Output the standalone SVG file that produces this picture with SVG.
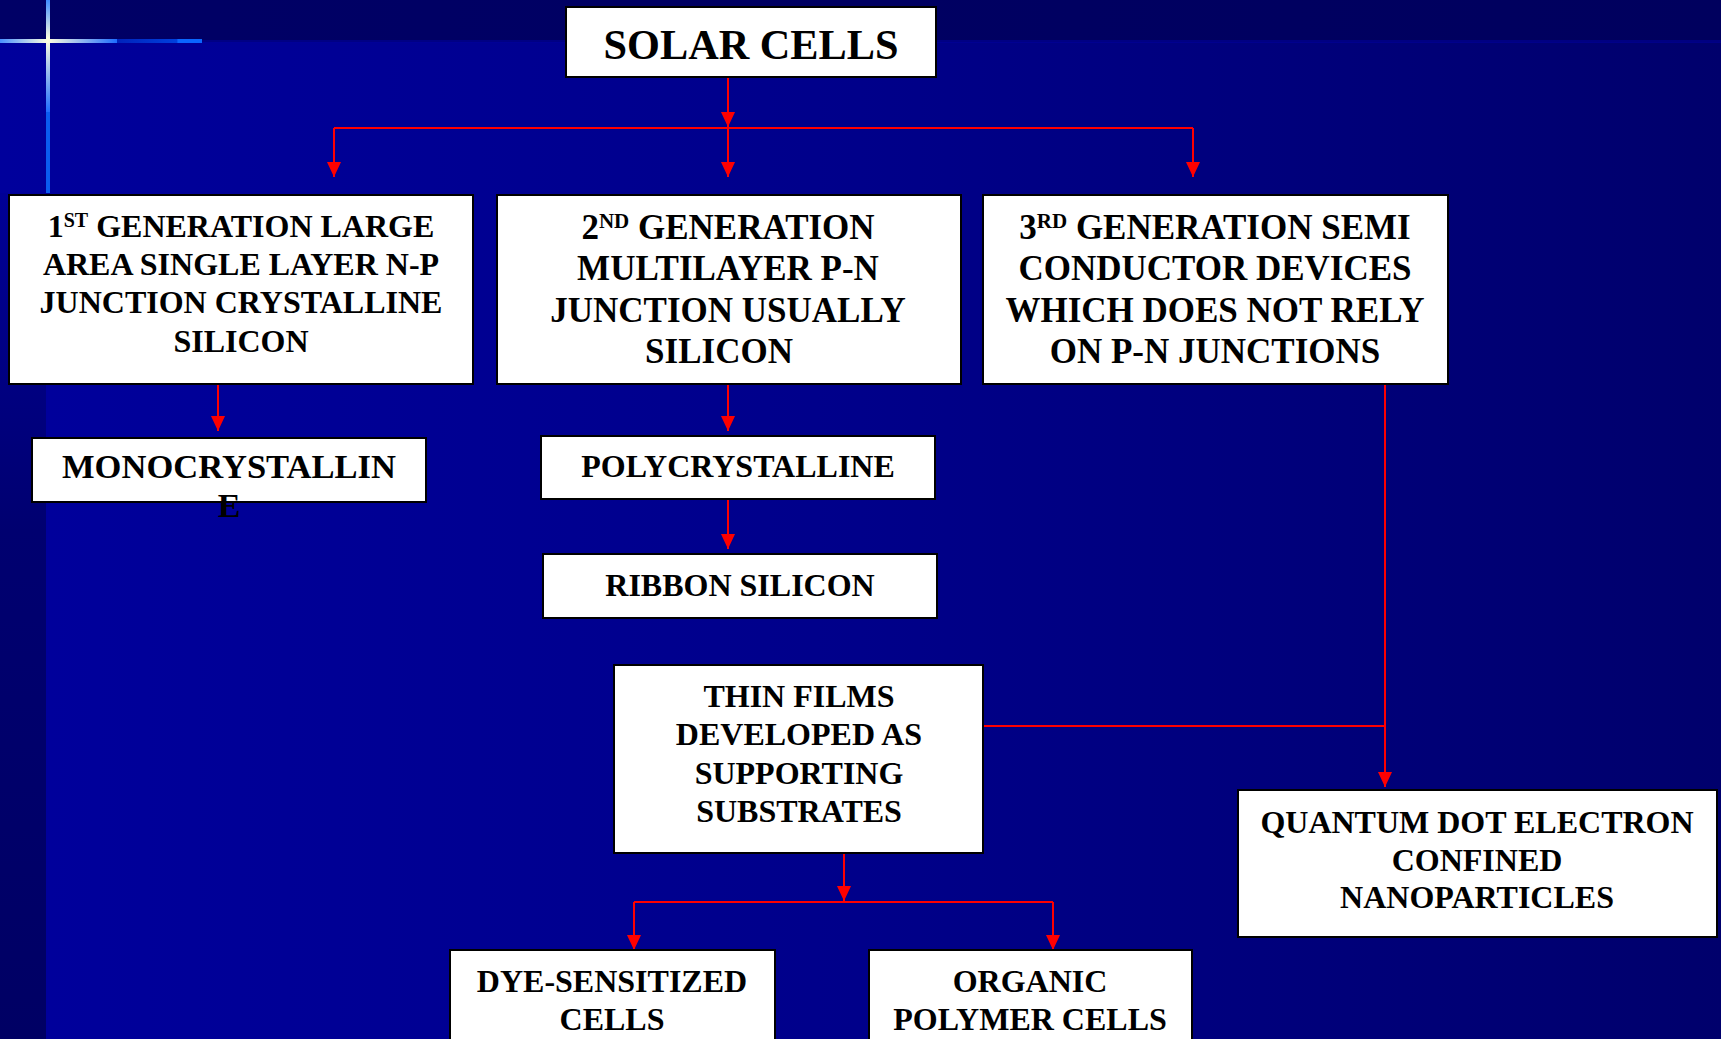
<svg xmlns="http://www.w3.org/2000/svg" width="1721" height="1039" viewBox="0 0 1721 1039">
  <defs>
    <linearGradient id="bgMain" x1="0" y1="0" x2="1" y2="0">
      <stop offset="0" stop-color="#00009c"/>
      <stop offset="0.5" stop-color="#00008a"/>
      <stop offset="1" stop-color="#00006c"/>
    </linearGradient>
    <linearGradient id="bgTop" x1="0" y1="0" x2="1" y2="0">
      <stop offset="0" stop-color="#000066"/>
      <stop offset="1" stop-color="#00005e"/>
    </linearGradient>
    <linearGradient id="strip" x1="0" y1="0" x2="0" y2="1">
      <stop offset="0" stop-color="#000096"/>
      <stop offset="0.4" stop-color="#000070"/>
      <stop offset="1" stop-color="#000064"/>
    </linearGradient>
    <linearGradient id="crossV" x1="0" y1="0" x2="0" y2="1">
      <stop offset="0" stop-color="#3f8cff"/>
      <stop offset="0.35" stop-color="#ffffe0"/>
      <stop offset="1" stop-color="#1e6cff"/>
    </linearGradient>
    <linearGradient id="crossH" x1="0" y1="0" x2="1" y2="0">
      <stop offset="0" stop-color="#4a90ff"/>
      <stop offset="0.41" stop-color="#ffffe0"/>
      <stop offset="1" stop-color="#1e6cff"/>
    </linearGradient>
    <linearGradient id="crossH2" x1="0" y1="0" x2="1" y2="0">
      <stop offset="0" stop-color="#0022bb"/>
      <stop offset="0.7" stop-color="#0040dd"/>
      <stop offset="0.72" stop-color="#0a66ff"/>
      <stop offset="1" stop-color="#0a66ff"/>
    </linearGradient>
    <marker id="arrow" markerUnits="userSpaceOnUse" markerWidth="15" markerHeight="14" refX="15" refY="7" orient="auto">
      <path d="M0,0 L15,7 L0,14 z" fill="#ff0000"/>
    </marker>
  </defs>
  <style>
    .box { fill: #ffffff; stroke: #000000; stroke-width: 2; }
    .t { font-family: "Liberation Serif", "Times New Roman", serif; font-weight: bold; fill: #000000; text-anchor: middle; }
    .s32 { font-size: 32px; }
    .s35 { font-size: 35px; }
    .con { stroke: #ff0000; stroke-width: 2; fill: none; }
  </style>

  <!-- background -->
  <g id="background">
    <rect x="0" y="0" width="1721" height="1039" fill="url(#bgMain)"/>
    <rect x="0" y="0" width="1721" height="42" fill="url(#bgTop)"/>
    <rect x="0" y="40" width="1721" height="3" fill="#000099" opacity="0.6"/>
    <rect x="0" y="193" width="46" height="846" fill="url(#strip)"/>
    <rect x="46" y="0" width="4" height="112" fill="url(#crossV)"/>
    <rect x="46" y="112" width="4" height="81" fill="#0a5cf0"/>
    <rect x="0" y="39" width="117" height="4" fill="url(#crossH)"/>
    <rect x="117" y="39" width="85" height="4" fill="url(#crossH2)"/>
  </g>

  <!-- connectors -->
  <g id="connectors">
    <line class="con" x1="728" y1="77" x2="728" y2="127" marker-end="url(#arrow)"/>
    <line class="con" x1="334" y1="128" x2="1193" y2="128"/>
    <line class="con" x1="334" y1="128" x2="334" y2="177" marker-end="url(#arrow)"/>
    <line class="con" x1="728" y1="128" x2="728" y2="177" marker-end="url(#arrow)"/>
    <line class="con" x1="1193" y1="128" x2="1193" y2="177" marker-end="url(#arrow)"/>
    <line class="con" x1="218" y1="384" x2="218" y2="431" marker-end="url(#arrow)"/>
    <line class="con" x1="728" y1="384" x2="728" y2="431" marker-end="url(#arrow)"/>
    <line class="con" x1="728" y1="500" x2="728" y2="549" marker-end="url(#arrow)"/>
    <line class="con" x1="1385" y1="384" x2="1385" y2="787" marker-end="url(#arrow)"/>
    <line class="con" x1="983" y1="726" x2="1385" y2="726"/>
    <line class="con" x1="844" y1="854" x2="844" y2="901" marker-end="url(#arrow)"/>
    <line class="con" x1="634" y1="902" x2="1053" y2="902"/>
    <line class="con" x1="634" y1="902" x2="634" y2="950" marker-end="url(#arrow)"/>
    <line class="con" x1="1053" y1="902" x2="1053" y2="950" marker-end="url(#arrow)"/>
  </g>

  <g id="solar-cells">
    <rect class="box" x="566" y="7" width="370" height="70"/>
    <text class="t" x="751" y="59" font-size="43" textLength="295" lengthAdjust="spacingAndGlyphs">SOLAR CELLS</text>
  </g>

  <g id="gen1">
    <rect class="box" x="9" y="195" width="464" height="189"/>
    <text class="t s32" x="241" y="237">1<tspan font-size="20" dy="-10">ST</tspan><tspan dy="10"> GENERATION LARGE</tspan></text>
    <text class="t s32" x="241" y="275">AREA SINGLE LAYER N-P</text>
    <text class="t s32" x="241" y="313">JUNCTION CRYSTALLINE</text>
    <text class="t s32" x="241" y="352">SILICON</text>
  </g>

  <g id="gen2">
    <rect class="box" x="497" y="195" width="464" height="189"/>
    <text class="t s35" x="728" y="239">2<tspan font-size="21" dy="-11">ND</tspan><tspan dy="11"> GENERATION</tspan></text>
    <text class="t s35" x="728" y="280">MULTILAYER P-N</text>
    <text class="t s35" x="728" y="322">JUNCTION USUALLY</text>
    <text class="t s35" x="719" y="363">SILICON</text>
  </g>

  <g id="gen3">
    <rect class="box" x="983" y="195" width="465" height="189"/>
    <text class="t s35" x="1215" y="239">3<tspan font-size="21" dy="-11">RD</tspan><tspan dy="11"> GENERATION SEMI</tspan></text>
    <text class="t s35" x="1215" y="280">CONDUCTOR DEVICES</text>
    <text class="t s35" x="1215" y="322">WHICH DOES NOT RELY</text>
    <text class="t s35" x="1215" y="363">ON P-N JUNCTIONS</text>
  </g>

  <g id="monocrystalline">
    <rect class="box" x="32" y="438" width="394" height="64"/>
    <text class="t" x="229" y="478" font-size="34" textLength="334" lengthAdjust="spacingAndGlyphs">MONOCRYSTALLIN</text>
    <text class="t" x="229" y="517" font-size="34">E</text>
  </g>

  <g id="polycrystalline">
    <rect class="box" x="541" y="436" width="394" height="63"/>
    <text class="t s32" x="738" y="477">POLYCRYSTALLINE</text>
  </g>

  <g id="ribbon-silicon">
    <rect class="box" x="543" y="554" width="394" height="64"/>
    <text class="t s32" x="740" y="596">RIBBON SILICON</text>
  </g>

  <g id="thin-films">
    <rect class="box" x="614" y="665" width="369" height="188"/>
    <text class="t s32" x="799" y="707">THIN FILMS</text>
    <text class="t s32" x="799" y="745">DEVELOPED AS</text>
    <text class="t s32" x="799" y="784">SUPPORTING</text>
    <text class="t s32" x="799" y="822">SUBSTRATES</text>
  </g>

  <g id="quantum-dot">
    <rect class="box" x="1238" y="790" width="479" height="147"/>
    <text class="t s32" x="1477" y="833">QUANTUM DOT ELECTRON</text>
    <text class="t s32" x="1477" y="871">CONFINED</text>
    <text class="t s32" x="1477" y="908">NANOPARTICLES</text>
  </g>

  <g id="dye-sensitized">
    <rect class="box" x="450" y="950" width="325" height="100"/>
    <text class="t s32" x="612" y="992">DYE-SENSITIZED</text>
    <text class="t s32" x="612" y="1030">CELLS</text>
  </g>

  <g id="organic-polymer">
    <rect class="box" x="869" y="950" width="323" height="100"/>
    <text class="t s32" x="1030" y="992">ORGANIC</text>
    <text class="t s32" x="1030" y="1030">POLYMER CELLS</text>
  </g>
</svg>
